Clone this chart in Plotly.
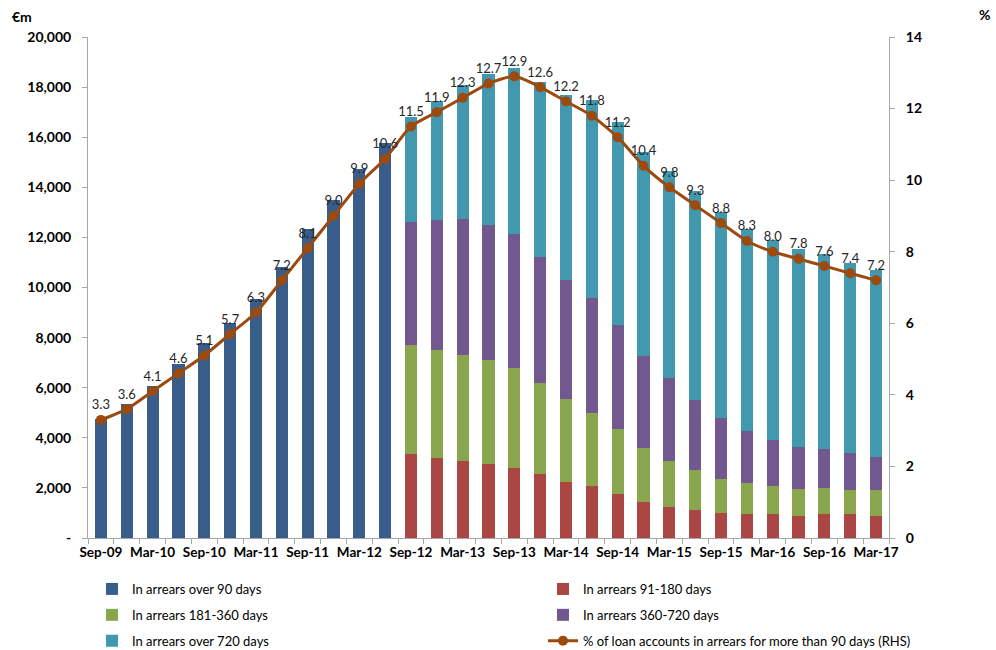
import plotly.graph_objects as go

quarters = ["Sep-09","Dec-09","Mar-10","Jun-10","Sep-10","Dec-10","Mar-11","Jun-11",
            "Sep-11","Dec-11","Mar-12","Jun-12","Sep-12","Dec-12","Mar-13","Jun-13",
            "Sep-13","Dec-13","Mar-14","Jun-14","Sep-14","Dec-14","Mar-15","Jun-15",
            "Sep-15","Dec-15","Mar-16","Jun-16","Sep-16","Dec-16","Mar-17"]
tick_labels = ["Sep-09","Mar-10","Sep-10","Mar-11","Sep-11","Mar-12","Sep-12","Mar-13",
               "Sep-13","Mar-14","Sep-14","Mar-15","Sep-15","Mar-16","Sep-16","Mar-17"]

over_90 = [4750, 5350, 6050, 6950, 7800, 8600, 9550, 10800, 12350, 13500, 14750, 15750] + [None]*19
d91_180 = [None]*12 + [3350, 3200, 3070, 2940, 2810, 2540, 2230, 2070, 1760, 1450, 1250,
                       1130, 985, 945, 945, 890, 945, 945, 890]
d181_360 = [None]*12 + [4350, 4300, 4240, 4160, 3990, 3630, 3330, 2940, 2600, 2150, 1820,
                        1600, 1385, 1245, 1115, 1080, 1065, 985, 1040]
d360_720 = [None]*12 + [4920, 5190, 5420, 5390, 5330, 5050, 4730, 4580, 4140, 3660, 3330,
                        2760, 2430, 2070, 1840, 1670, 1540, 1450, 1310]
over_720 = [None]*12 + [4190, 4760, 5370, 6020, 6650, 6990, 7410, 7910, 8090, 8150, 8240,
                        8370, 8220, 8060, 7990, 7890, 7780, 7580, 7450]
pct_accounts = [3.3, 3.6, 4.1, 4.6, 5.1, 5.7, 6.3, 7.2, 8.1, 9.0, 9.9, 10.6,
                11.5, 11.9, 12.3, 12.7, 12.9, 12.6, 12.2, 11.8, 11.2, 10.4, 9.8, 9.3,
                8.8, 8.3, 8.0, 7.8, 7.6, 7.4, 7.2]

left_ticks = list(range(0, 20001, 2000))
left_text = ["-"] + [f"{v:,}" for v in left_ticks[1:]]
right_ticks = list(range(0, 15, 2))

FONT = "Lato, 'Open Sans', Arial, sans-serif"
W, H = 996, 650
ML, MR, MT, MB = 88, 107, 37, 112
PW, PH = W - ML - MR, H - MT - MB


def px_x(px):
    return (px - ML) / PW


def px_y(py):
    return (H - MB - py) / PH


fig = go.Figure()
bar_specs = [
    ("In arrears over 90 days", over_90, "#385D8A", "legend"),
    ("In arrears 91-180 days", d91_180, "#AA4643", "legend2"),
    ("In arrears 181-360 days", d181_360, "#89A54E", "legend"),
    ("In arrears 360-720 days", d360_720, "#71588F", "legend2"),
    ("In arrears over 720 days", over_720, "#4198AF", "legend"),
]
for name, vals, col, lg in bar_specs:
    fig.add_trace(go.Bar(x=quarters, y=vals, name=name, marker_color=col,
                         marker_line_width=0, yaxis="y", legend=lg, legendgroup=name))

line_name = "% of loan accounts in arrears for more than 90 days (RHS)"
fig.add_trace(go.Scatter(
    x=quarters, y=pct_accounts, yaxis="y2", name=line_name, legend="legend2", legendgroup=line_name,
    mode="lines+markers+text", line=dict(color="#9C4A0E", width=3, shape="spline", smoothing=0.6),
    marker=dict(color="#9C4A0E", size=10),
    text=[f"{v:.1f}" for v in pct_accounts], textposition="top center",
    textfont=dict(family=FONT, size=13, color="#262626"),
))

legend_common = dict(
    orientation="v", yanchor="top", xanchor="left", traceorder="grouped",
    font=dict(family=FONT, size=13, color="#000000"), itemwidth=30, tracegroupgap=6,
    bgcolor="rgba(0,0,0,0)",
)

fig.update_layout(
    width=W, height=H,
    margin=dict(l=ML, r=MR, t=MT, b=MB, autoexpand=False),
    paper_bgcolor="white", plot_bgcolor="white",
    barmode="stack", bargap=0.53,
    font=dict(family=FONT, size=14, color="#000000"),
    xaxis=dict(
        type="category", tickmode="array", tickvals=quarters,
        ticktext=[q if q in tick_labels else "" for q in quarters],
        range=[-0.5, len(quarters) - 0.5],
        tickson="boundaries", ticks="outside", ticklen=5, tickcolor="#A6A6A6",
        showline=True, linecolor="#A6A6A6", linewidth=1, showgrid=False,
        tickangle=0, automargin=False, ticklabelstandoff=2,
        tickfont=dict(family=FONT, size=13.5, color="#000000", weight="bold"),
    ),
    yaxis=dict(
        range=[0, 20000], tickmode="array", tickvals=left_ticks, ticktext=left_text,
        ticks="outside", ticklen=5, tickcolor="#A6A6A6", ticklabelstandoff=8,
        showline=True, linecolor="#A6A6A6", linewidth=1, showgrid=False, zeroline=False,
        automargin=False,
        tickfont=dict(family=FONT, size=14, color="#000000", weight="bold"),
    ),
    yaxis2=dict(
        range=[0, 14], tickmode="array", tickvals=right_ticks, overlaying="y", side="right",
        ticks="outside", ticklen=5, tickcolor="#A6A6A6", ticklabelstandoff=8,
        showline=True, linecolor="#A6A6A6", linewidth=1, showgrid=False, zeroline=False,
        automargin=False,
        tickfont=dict(family=FONT, size=14, color="#000000", weight="bold"),
    ),
    legend=dict(x=px_x(92), y=px_y(574), **legend_common),
    legend2=dict(x=px_x(543), y=px_y(574), **legend_common),
    annotations=[
        dict(text="<b>€m</b>", x=px_x(22), y=px_y(16), xref="paper", yref="paper",
             showarrow=False, xanchor="center", yanchor="middle", font=dict(size=14, family=FONT)),
        dict(text="<b>%</b>", x=px_x(984), y=px_y(15), xref="paper", yref="paper",
             showarrow=False, xanchor="center", yanchor="middle", font=dict(size=14, family=FONT)),
    ],
)
fig.write_html("out.html", config={"displayModeBar": False},
               post_script="document.body.style.margin='0';document.body.style.padding='0';")
